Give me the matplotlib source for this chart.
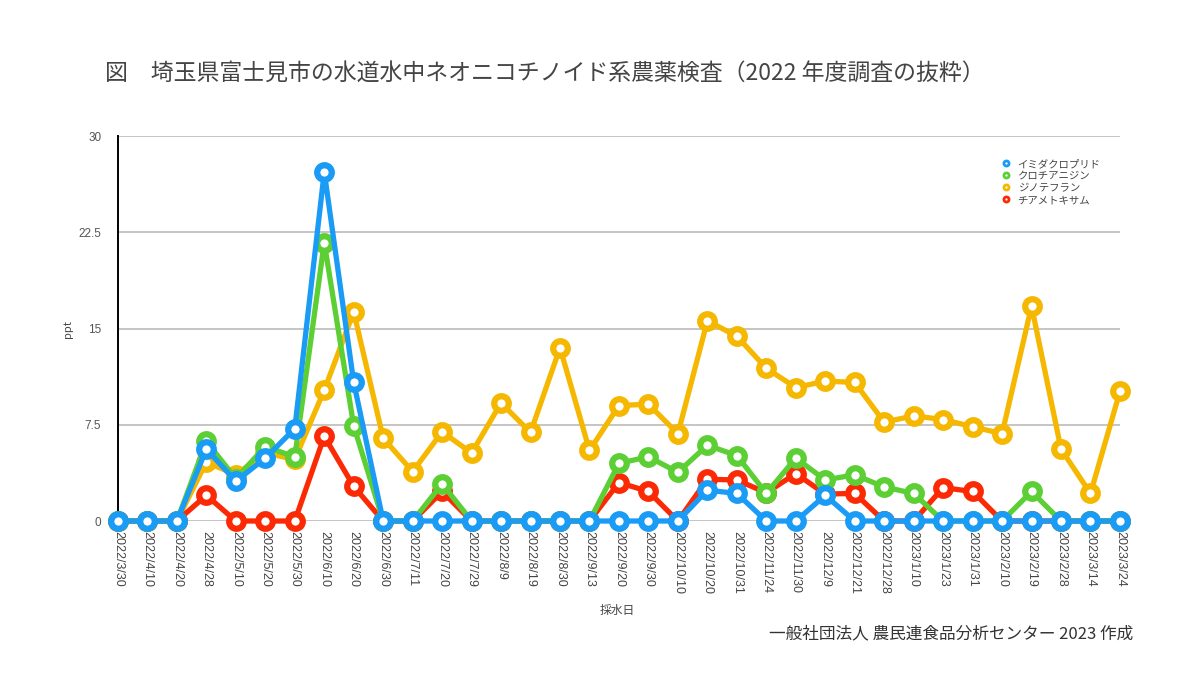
import matplotlib
matplotlib.use('Agg')
import matplotlib.pyplot as plt

plt.rcParams['font.family'] = ['Noto Sans CJK JP', 'DejaVu Sans']

# sampling dates (x categories)
dates = ['2022/3/30', '2022/4/10', '2022/4/20', '2022/4/28', '2022/5/10', '2022/5/20',
         '2022/5/30', '2022/6/10', '2022/6/20', '2022/6/30', '2022/7/11', '2022/7/20',
         '2022/7/29', '2022/8/9', '2022/8/19', '2022/8/30', '2022/9/13', '2022/9/20',
         '2022/9/30', '2022/10/10', '2022/10/20', '2022/10/31', '2022/11/24', '2022/11/30',
         '2022/12/9', '2022/12/21', '2022/12/28', '2023/1/10', '2023/1/23', '2023/1/31',
         '2023/2/10', '2023/2/19', '2023/2/28', '2023/3/14', '2023/3/24']

# values in ppt
imidacloprid = [0, 0, 0, 5.6, 3.1, 4.9, 7.2, 27.2, 10.8, 0, 0, 0, 0, 0, 0, 0, 0, 0,
                0, 0, 2.4, 2.15, 0, 0, 2.0, 0, 0, 0, 0, 0, 0, 0, 0, 0, 0]
clothianidin = [0, 0, 0, 6.2, 3.3, 5.8, 5.0, 21.7, 7.4, 0, 0, 2.9, 0, 0, 0, 0, 0, 4.5,
                5.0, 3.8, 5.9, 5.1, 2.15, 4.9, 3.2, 3.6, 2.65, 2.15, 0, 0, 0, 2.3, 0, 0, 0]
dinotefuran = [0, 0, 0, 4.6, 3.6, 5.3, 4.8, 10.2, 16.3, 6.45, 3.85, 6.95, 5.3, 9.2, 6.9,
               13.5, 5.5, 9.0, 9.1, 6.8, 15.6, 14.4, 11.9, 10.4, 10.9, 10.8, 7.7, 8.2,
               7.9, 7.35, 6.8, 16.75, 5.6, 2.15, 10.1]
thiamethoxam = [0, 0, 0, 2.0, 0, 0, 0, 6.6, 2.7, 0, 0, 2.3, 0, 0, 0, 0, 0, 3.0, 2.3, 0,
                3.25, 3.2, 2.2, 3.7, 2.1, 2.15, 0, 0, 2.6, 2.3, 0, 0, 0, 0, 0]

series = [
    ('イミダクロプリド', imidacloprid, '#1a9bf5', 4),
    ('クロチアニジン', clothianidin, '#5ccf35', 3),
    ('ジノテフラン', dinotefuran, '#f5b700', 1),
    ('チアメトキサム', thiamethoxam, '#fb2a05', 2),
]

fig = plt.figure(figsize=(12, 7), dpi=100)
ax = fig.add_axes([0.0983, 0.2557, 0.835, 0.55])

x = list(range(len(dates)))
for name, vals, col, z in series:
    ax.plot(x, vals, color=col, lw=3.8, marker='o', ms=10.5, mew=4.5,
            mfc='white', mec=col, label=name, zorder=z + 2, clip_on=False)

ax.set_xlim(0, len(dates) - 1)
ax.set_ylim(0, 30)
ax.set_yticks([0, 7.5, 15, 22.5, 30])
ax.set_yticklabels(['0', '7.5', '15', '22.5', '30'], family=['Liberation Sans', 'DejaVu Sans'])
ax.set_xticks(x)
ax.set_xticklabels(dates, rotation=-90, fontsize=9, color='#444444',
                   family=['Liberation Sans', 'DejaVu Sans'])
ax.tick_params(axis='y', labelsize=8.5, colors='#555555', length=0, pad=12)
ax.tick_params(axis='x', length=0, pad=7)
ax.grid(axis='y', color='#bbbbbb', lw=1.2)
ax.set_axisbelow(True)
for s in ['top', 'right', 'bottom']:
    ax.spines[s].set_visible(False)
ax.spines['left'].set_color('black')
ax.spines['left'].set_linewidth(1.4)

ax.set_ylabel('ppt', fontsize=8, color='#444444', labelpad=4)
ax.set_xlabel('採水日', fontsize=8.5, color='#444444', labelpad=2)
ax.xaxis.set_label_coords(0.498, -0.215)

leg = ax.legend(loc='upper right', bbox_to_anchor=(0.99, 0.965), frameon=False,
                fontsize=7.5, handlelength=0.6, handletextpad=0.8, labelspacing=0.2,
                markerscale=0.35)
for h in leg.legend_handles:
    h.set_linewidth(0)
    h.set_markeredgewidth(2)
for t in leg.get_texts():
    t.set_color('#444444')

fig.text(0.0875, 0.895, '図　埼玉県富士見市の水道水中ネオニコチノイド系農薬検査（2022 年度調査の抜粋）',
         fontsize=16.5, color='#444444', va='center', ha='left')
fig.text(0.944, 0.094, '一般社団法人 農民連食品分析センター 2023 作成',
         fontsize=12, color='#333333', va='center', ha='right')

fig.savefig('out.png', dpi=100, facecolor='white')
